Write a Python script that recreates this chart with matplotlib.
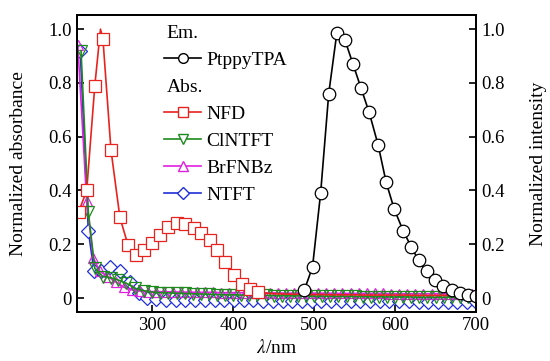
import numpy as np
import matplotlib
matplotlib.use('Agg')
import matplotlib.pyplot as plt
from matplotlib.lines import Line2D

plt.rcParams['font.family'] = ['Liberation Serif', 'DejaVu Serif']
plt.rcParams['mathtext.fontset'] = 'stix'

# emission (right axis)
em_x = [488, 498, 508, 518, 528, 538, 548, 558, 568, 579, 589, 599, 610, 620,
        629, 639, 649, 659, 670, 680, 690, 700]
em_y = [0.03, 0.116, 0.39, 0.76, 0.985, 0.96, 0.87, 0.78, 0.69, 0.57, 0.43, 0.33,
        0.25, 0.19, 0.14, 0.10, 0.067, 0.045, 0.03, 0.02, 0.012, 0.006]

# absorbance (left axis); NFD index 3 is the unmarked peak of the line
nfd_x = [209, 219, 229, 236, 239, 249, 260, 270, 280, 290, 300, 310, 320, 330,
         341, 351, 360, 371, 380, 390, 401, 411, 421, 431, 441, 451, 461, 471,
         481, 491, 501, 511, 521, 531, 541, 551, 561, 571, 581, 591, 601, 611,
         621, 631, 641, 651, 661, 671, 681, 691, 700]
nfd_y = [0.32, 0.40, 0.79, 1.0, 0.965, 0.55, 0.30, 0.197, 0.16, 0.18, 0.203,
         0.234, 0.265, 0.28, 0.275, 0.26, 0.24, 0.215, 0.18, 0.135, 0.085,
         0.052, 0.032, 0.022, 0.018, 0.016, 0.015, 0.014, 0.014, 0.013, 0.013,
         0.013, 0.012, 0.012, 0.012, 0.012, 0.011, 0.011, 0.011, 0.011, 0.011,
         0.011, 0.01, 0.01, 0.01, 0.01, 0.01, 0.01, 0.01, 0.01, 0.01]
nfd_last_marker = 431

cl_x = [212, 221, 229, 239, 249, 258, 268, 279, 290, 300, 310, 320, 330, 340,
        350, 360, 370, 380, 390, 400, 410, 420, 430, 440, 450, 460, 470, 480,
        490, 500, 510, 520, 530, 540, 550, 560, 570, 580, 590, 600, 610, 620,
        630, 640, 650, 660, 670, 680, 690, 700]
cl_y = [0.92, 0.32, 0.11, 0.08, 0.075, 0.067, 0.055, 0.036, 0.027, 0.022, 0.02,
        0.019, 0.018, 0.017, 0.016, 0.015, 0.014, 0.013, 0.012, 0.012, 0.011,
        0.011, 0.01, 0.01, 0.009, 0.009, 0.008, 0.008, 0.008, 0.007, 0.007,
        0.007, 0.006, 0.006, 0.006, 0.005, 0.005, 0.005, 0.004, 0.004, 0.004,
        0.004, 0.003, 0.003, 0.003, 0.003, 0.003, 0.002, 0.002, 0.002]

br_x = [208, 219, 227, 235, 245, 255, 265, 275, 285, 295, 305, 315, 325, 335,
        345, 355, 365, 375, 385, 395, 405, 415, 425, 435, 445, 455, 465, 475,
        485, 495, 505, 515, 525, 535, 545, 555, 565, 575, 585, 595, 605, 615,
        625, 635, 645, 655, 665, 675, 685, 695]
br_y = [0.94, 0.36, 0.15, 0.10, 0.08, 0.06, 0.04, 0.03, 0.026, 0.024, 0.024,
        0.023, 0.023, 0.022, 0.022, 0.021, 0.021, 0.021, 0.02, 0.02, 0.02,
        0.02, 0.019, 0.019, 0.019, 0.019, 0.018, 0.018, 0.018, 0.018, 0.018,
        0.018, 0.017, 0.017, 0.017, 0.017, 0.017, 0.017, 0.017, 0.016, 0.016,
        0.016, 0.016, 0.016, 0.016, 0.016, 0.016, 0.016, 0.016, 0.016]

nt_x = [211, 221, 228, 237, 248, 260, 272, 283, 293, 305, 317, 329, 341, 353,
        365, 377, 389, 401, 413, 425, 437, 449, 461, 473, 485, 497, 509, 521,
        533, 545, 557, 569, 581, 593, 605, 617, 629, 641, 653, 665, 677, 689, 700]
nt_y = [0.92, 0.25, 0.10, 0.10, 0.117, 0.10, 0.06, 0.02, 0.0, -0.004, -0.006,
        -0.007, -0.007, -0.008, -0.008, -0.008, -0.009, -0.009, -0.009, -0.009,
        -0.01, -0.01, -0.01, -0.01, -0.01, -0.011, -0.011, -0.011, -0.011,
        -0.011, -0.012, -0.012, -0.012, -0.012, -0.012, -0.012, -0.013, -0.013,
        -0.013, -0.013, -0.013, -0.013, -0.013]

fig = plt.figure(figsize=(5.5, 3.61), dpi=100)
ax = fig.add_axes([0.14, 0.1357, 0.7255, 0.8223])
ax2 = ax.twinx()

lw = 1.2
ax.plot(nt_x, nt_y, color='#1f2fd6', lw=lw, marker='D', ms=7, mfc='white', mec='#1f2fd6', mew=0.9)
ax.plot(br_x, br_y, color='#e020e0', lw=lw, marker='^', ms=6.5, mfc='none', mec='#e020e0', mew=0.9)
ax.plot(cl_x, cl_y, color='#1e8a1e', lw=lw, marker='v', ms=8, mfc='none', mec='#1e8a1e', mew=0.9)
nfd_marks = [i for i, x in enumerate(nfd_x) if i != 3 and x <= nfd_last_marker]
ax.plot(nfd_x, nfd_y, color='#e8231f', lw=lw, marker='s', ms=8.5, mfc='white', mec='#e8231f',
        mew=0.9, markevery=nfd_marks)
ax2.plot(em_x, em_y, color='black', lw=lw, marker='o', ms=9, mfc='white', mec='black', mew=0.9)

for a in (ax, ax2):
    a.set_xlim(207, 700)
    a.set_ylim(-0.052, 1.052)
    a.set_yticks([0, 0.2, 0.4, 0.6, 0.8, 1.0])
    a.set_yticklabels(['0', '0.2', '0.4', '0.6', '0.8', '1.0'])
    a.tick_params(direction='in', length=5, width=1.2, labelsize=13.5)
    for s in a.spines.values():
        s.set_linewidth(1.3)
ax.tick_params(axis='x', top=False)
ax.set_xticks([300, 400, 500, 600, 700])
ax.tick_params(axis='y', pad=4)
ax2.tick_params(axis='y', pad=4)

ax.set_xlabel(r'$\mathit{\lambda}$/nm', fontsize=14, labelpad=4)
ax.set_ylabel('Normalized absorbance', fontsize=14, labelpad=15)
ax2.set_ylabel('Normalized intensity', fontsize=14, labelpad=18)

# legend with section headings
blank = Line2D([], [], color='none')
lms = 7
handles = [
    blank,
    Line2D([], [], color='black', lw=lw, marker='o', ms=lms, mfc='white', mec='black'),
    blank,
    Line2D([], [], color='#e8231f', lw=lw, marker='s', ms=lms, mfc='white', mec='#e8231f'),
    Line2D([], [], color='#1e8a1e', lw=lw, marker='v', ms=lms, mfc='white', mec='#1e8a1e'),
    Line2D([], [], color='#e020e0', lw=lw, marker='^', ms=lms, mfc='white', mec='#e020e0'),
    Line2D([], [], color='#1f2fd6', lw=lw, marker='D', ms=6, mfc='white', mec='#1f2fd6'),
]
labels = ['Em.', 'PtppyTPA', 'Abs.', 'NFD', 'ClNTFT', 'BrFNBz', 'NTFT']
leg = ax2.legend(handles, labels, loc='upper left', bbox_to_anchor=(0.175, 1.028),
                 frameon=False, fontsize=14, handlelength=1.9, handletextpad=0.26,
                 labelspacing=0.48)
for t in (leg.get_texts()[0], leg.get_texts()[2]):
    t.set_position((-40, 0))

fig.savefig('out.png', dpi=100)
